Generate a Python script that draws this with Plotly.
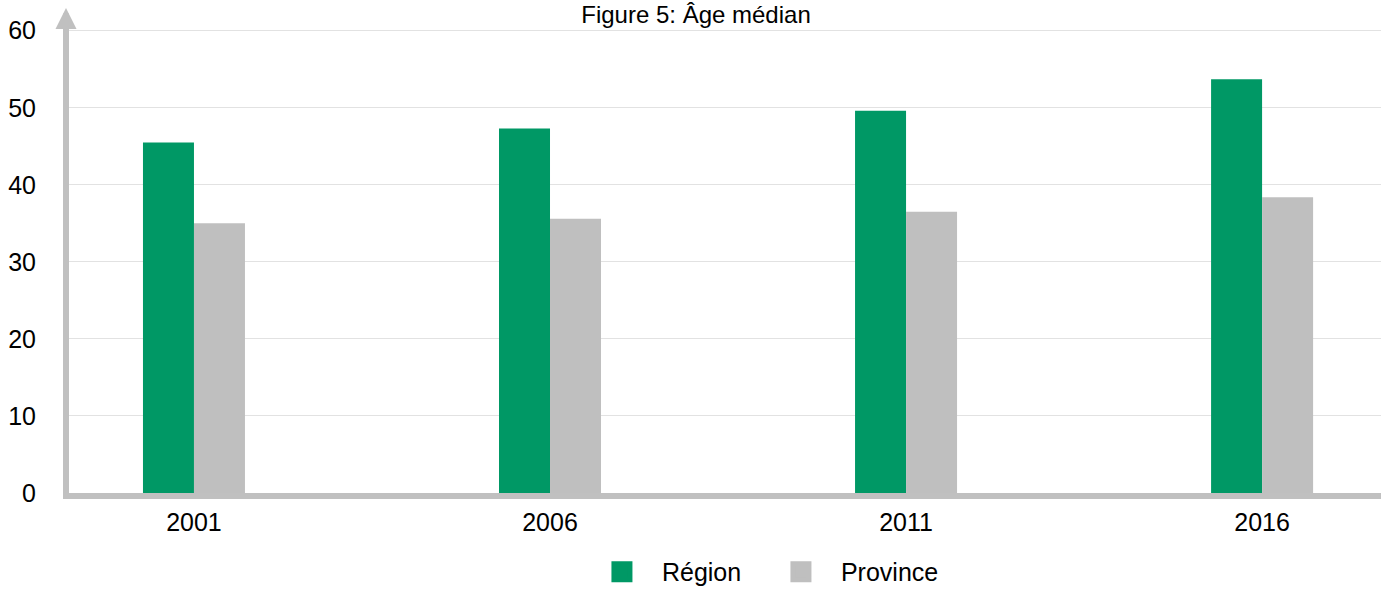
import plotly.graph_objects as go

# Median age by census year
years = ["2001", "2006", "2011", "2016"]
region = [45.5, 47.3, 49.6, 53.7]
province = [35.0, 35.6, 36.5, 38.4]

GREEN = "#009865"
GREY = "#bfbfbf"
AXIS = "#c0c0c0"
GRID = "#e2e2e2"
FONT = "Liberation Sans, Arial, sans-serif"

fig = go.Figure()
fig.add_trace(go.Bar(x=years, y=region, name="Région", marker=dict(color=GREEN, line=dict(width=0)), showlegend=False))
fig.add_trace(go.Bar(x=years, y=province, name="Province", marker=dict(color=GREY, line=dict(width=0)), showlegend=False))

# Legend entries with large square swatches
for name, col in (("Région", GREEN), ("Province", GREY)):
    fig.add_trace(go.Scatter(
        x=[None], y=[None], mode="markers", name=name,
        marker=dict(symbol="square", size=16, color=col, line=dict(color=col, width=5)),
    ))

fig.update_layout(
    width=1381, height=589,
    margin=dict(l=69, r=0, t=28, b=96),
    paper_bgcolor="white", plot_bgcolor="white",
    font=dict(family=FONT, size=25, color="#000000"),
    barmode="group", bargap=0.7135, bargroupgap=0,
    title=dict(text="Figure 5: Âge médian", x=0.504, xanchor="center",
               y=1.0, yanchor="top", yref="container", pad=dict(t=6, b=0),
               font=dict(family=FONT, size=24, color="#000000")),
    xaxis=dict(type="category", range=[-0.351, 3.334], showgrid=False, zeroline=False,
               showline=True, linecolor=AXIS, linewidth=6, ticks="",
               ticklabelstandoff=2, tickfont=dict(size=25)),
    yaxis=dict(range=[0, 60.35], tickvals=[0, 10, 20, 30, 40, 50, 60], showgrid=True,
               gridcolor=GRID, gridwidth=1, zeroline=False, showline=True,
               linecolor=AXIS, linewidth=6, ticks="", ticklabelstandoff=22,
               tickfont=dict(size=25)),
    legend=dict(orientation="h", x=0.5274, xanchor="center", y=0.029, yanchor="middle",
                yref="container", itemwidth=70, entrywidth=94,
                font=dict(size=25), bgcolor="rgba(0,0,0,0)"),
    annotations=[dict(
        xref="paper", yref="paper", x=0, y=1, xshift=-3, yshift=20,
        ax=0, ay=20, text="", showarrow=True, arrowhead=2, arrowsize=0.7,
        arrowwidth=6, arrowcolor=AXIS,
    )],
)

fig.write_html("out.html")
